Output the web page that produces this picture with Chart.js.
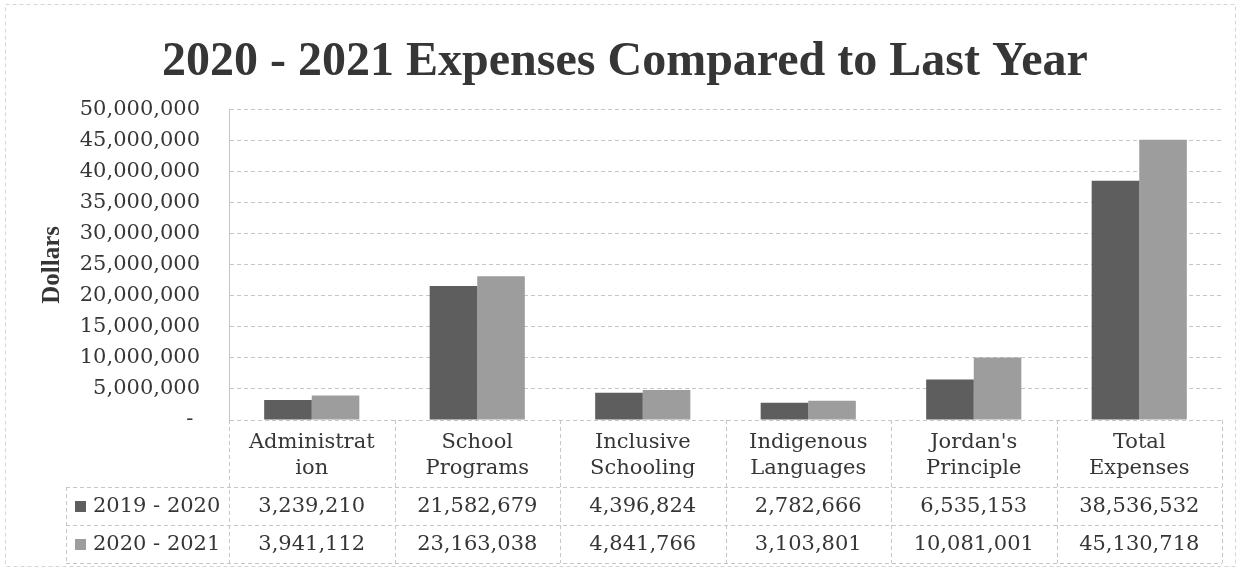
<!DOCTYPE html>
<html>
<head>
<meta charset="utf-8">
<script src="https://cdn.jsdelivr.net/npm/chart.js@4/dist/chart.umd.min.js"></script>
<style>
  html, body { margin: 0; padding: 0; background: #fff; }
  #wrap { width: 1241px; height: 571px; }
</style>
</head>
<body>
<div id="wrap"><canvas id="expenseChart" width="1241" height="571"></canvas></div>
<script>
// Category labels (split the way the table header wraps them)
const categories = [
    ['Administrat', 'ion'],
    ['School', 'Programs'],
    ['Inclusive', 'Schooling'],
    ['Indigenous', 'Languages'],
    ["Jordan's", 'Principle'],
    ['Total', 'Expenses']
];
const seriesNames = ['2019 - 2020', '2020 - 2021'];
const expenses2019 = [3239210, 21582679, 4396824, 2782666, 6535153, 38536532];
const expenses2020 = [3941112, 23163038, 4841766, 3103801, 10081001, 45130718];
const yMax = 50000000;
const yStep = 5000000;

const darkGray = '#5e5e5e';
const lightGray = '#9d9d9d';
const lineColor = '#c6c6c6';
const textColor = '#363636';
const bodyFont = 'DejaVu Serif';
const headFont = 'Liberation Serif';

const fmt = v => v.toLocaleString('en-US');

// Draws the two value rows under the category header, lined up with the x scale
const dataTable = {
    id: 'dataTable',
    afterDraw(chart) {
        const ctx = chart.ctx;
        const x = chart.scales.x;
        const area = chart.chartArea;
        const rowTop = x.bottom;
        const rowH = 38;
        const tableLeft = 66;
        const n = categories.length;

        const edges = [area.left];
        for (let i = 1; i < n; i++) {
            edges.push((x.getPixelForValue(i - 1) + x.getPixelForValue(i)) / 2);
        }
        edges.push(area.right);

        ctx.save();
        ctx.strokeStyle = lineColor;
        ctx.lineWidth = 1;
        ctx.setLineDash([4, 3]);
        ctx.beginPath();
        for (let r = 0; r <= 2; r++) {
            const y = Math.round(rowTop + r * rowH) + 0.5;
            ctx.moveTo(tableLeft, y);
            ctx.lineTo(area.right, y);
        }
        edges.forEach(ex => {
            const px = Math.round(ex) + 0.5;
            ctx.moveTo(px, area.bottom);
            ctx.lineTo(px, rowTop + 2 * rowH);
        });
        ctx.moveTo(tableLeft + 0.5, rowTop);
        ctx.lineTo(tableLeft + 0.5, rowTop + 2 * rowH);
        ctx.stroke();
        ctx.setLineDash([]);

        ctx.font = '21px "' + bodyFont + '"';
        ctx.textBaseline = 'middle';
        chart.data.datasets.forEach((ds, r) => {
            const cy = rowTop + r * rowH + rowH / 2 + 1;
            ctx.fillStyle = ds.backgroundColor;
            ctx.fillRect(75, cy - 6, 11, 11);
            ctx.fillStyle = textColor;
            ctx.textAlign = 'left';
            ctx.fillText(ds.label, 93, cy);
            ctx.textAlign = 'center';
            ds.data.forEach((v, i) => {
                ctx.fillText(fmt(v), x.getPixelForValue(i), cy);
            });
        });

        // outer frame
        ctx.strokeStyle = '#d6d6d6';
        ctx.setLineDash([4, 3]);
        ctx.strokeRect(5.5, 4.5, 1230, 562);
        ctx.restore();
    }
};

const ctx = document.getElementById('expenseChart').getContext('2d');
const expenseChart = new Chart(ctx, {
    type: 'bar',
    data: {
        labels: categories,
        datasets: [{
            label: seriesNames[0],
            data: expenses2019,
            backgroundColor: darkGray
        }, {
            label: seriesNames[1],
            data: expenses2020,
            backgroundColor: lightGray
        }]
    },
    options: {
        responsive: false,
        animation: false,
        categoryPercentage: 0.575,
        barPercentage: 1,
        layout: {
            padding: { left: 28, right: 19, top: 0, bottom: 84 }
        },
        plugins: {
            legend: { display: false },
            tooltip: { enabled: false },
            title: {
                display: true,
                text: '2020 - 2021 Expenses Compared to Last Year',
                color: textColor,
                font: { family: headFont, size: 48, weight: 'bold' },
                padding: { top: 34, bottom: 18 }
            }
        },
        scales: {
            x: {
                grid: { display: false },
                border: { display: false },
                ticks: {
                    color: textColor,
                    font: { family: bodyFont, size: 21, lineHeight: 1.25 },
                    padding: 1,
                    maxRotation: 0,
                    autoSkip: false
                },
                afterFit(scale) { scale.height = 67; }
            },
            y: {
                min: 0,
                max: yMax,
                grid: { color: lineColor, drawTicks: false },
                border: { display: true, color: lineColor, dash: [4, 3] },
                ticks: {
                    stepSize: yStep,
                    color: textColor,
                    font: { family: bodyFont, size: 21 },
                    padding: 29,
                    callback: v => v === 0 ? '- ' : fmt(v)
                },
                title: {
                    display: true,
                    text: 'Dollars',
                    color: textColor,
                    font: { family: headFont, size: 25, weight: 'bold' },
                    padding: { top: 10, bottom: 0 }
                },
                afterFit(scale) { scale.width = 201; }
            }
        }
    },
    plugins: [dataTable]
});
</script>
</body>
</html>
